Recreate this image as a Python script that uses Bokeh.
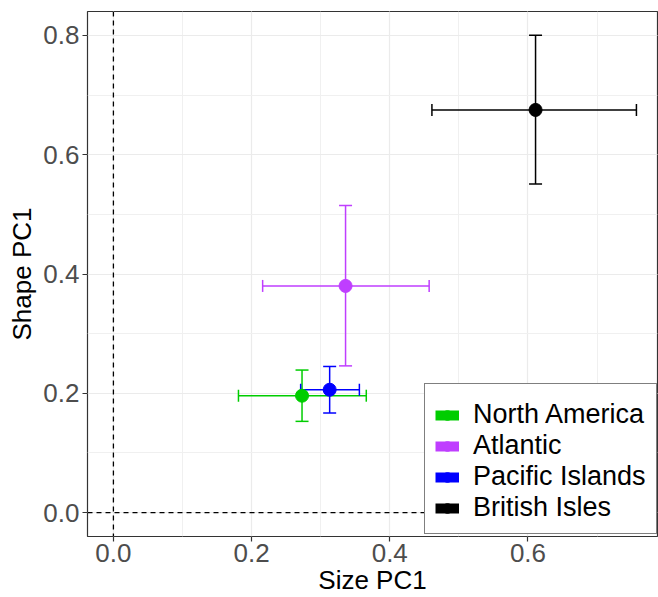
from bokeh.plotting import figure
from bokeh.models import (Whisker, TeeHead, ColumnDataSource, Span, Legend, LegendItem,
                          SingleIntervalTicker, PrintfTickFormatter, Range1d)
from bokeh.embed import file_html
from bokeh.resources import INLINE

regions = ["North America", "Atlantic", "Pacific Islands", "British Isles"]
colors = ["#00CD00", "#BF3EFF", "#0000FF", "#000000"]
size_pc1 = [0.273, 0.336, 0.313, 0.611]
size_lo = [0.181, 0.216, 0.271, 0.461]
size_hi = [0.366, 0.457, 0.356, 0.757]
shape_pc1 = [0.196, 0.380, 0.206, 0.675]
shape_lo = [0.153, 0.246, 0.167, 0.551]
shape_hi = [0.239, 0.515, 0.245, 0.800]

FONT = "Liberation Sans"
FS = "26px"

p = figure(width=658, height=597, output_backend="svg", toolbar_location=None,
           x_range=Range1d(-0.0375, 0.7875), y_range=Range1d(-0.04, 0.84),
           min_border_left=87, min_border_right=1, min_border_top=11, min_border_bottom=58,
           background_fill_color="white", border_fill_color="white")

p.outline_line_color = "#333333"
p.outline_line_width = 1.2

for ax in (p.xaxis[0], p.yaxis[0]):
    ax.ticker = SingleIntervalTicker(interval=0.2, num_minor_ticks=2)
    ax.formatter = PrintfTickFormatter(format="%.1f")
    ax.axis_line_color = None
    ax.major_tick_line_color = "#333333"
    ax.major_tick_line_width = 1.2
    ax.major_tick_out = 5
    ax.major_tick_in = 0
    ax.minor_tick_line_color = None
    ax.major_label_text_font = FONT
    ax.major_label_text_font_size = FS
    ax.major_label_text_color = "#4D4D4D"
    ax.axis_label_text_font = FONT
    ax.axis_label_text_font_size = FS
    ax.axis_label_text_font_style = "normal"
    ax.axis_label_text_color = "black"

p.xaxis.axis_label = "Size PC1"
p.yaxis.axis_label = "Shape PC1"
p.xaxis.major_label_standoff = 2
p.xaxis.axis_label_standoff = 0
p.yaxis.major_label_standoff = 3
p.yaxis.axis_label_standoff = 3

for g in (p.xgrid[0], p.ygrid[0]):
    g.ticker = SingleIntervalTicker(interval=0.2, num_minor_ticks=2)
    g.grid_line_color = "#EBEBEB"
    g.grid_line_width = 1.2
    g.minor_grid_line_color = "#F0F0F0"
    g.minor_grid_line_width = 1

p.add_layout(Span(location=0, dimension="height", line_color="black",
                  line_dash="5 4", line_width=1.3, level="underlay"))
p.add_layout(Span(location=0, dimension="width", line_color="black",
                  line_dash="5 4", line_width=1.3, level="underlay"))

nan = float("nan")
items = []
for i, r in enumerate(regions):
    c = colors[i]
    src = ColumnDataSource(dict(x=[size_pc1[i]], y=[shape_pc1[i]],
                                xlo=[size_lo[i]], xhi=[size_hi[i]],
                                ylo=[shape_lo[i]], yhi=[shape_hi[i]]))
    wv = Whisker(source=src, base="x", lower="ylo", upper="yhi", dimension="height",
                 line_color=c, line_width=1.5, level="underlay",
                 upper_head=TeeHead(size=13, line_color=c, line_width=1.5),
                 lower_head=TeeHead(size=13, line_color=c, line_width=1.5))
    wh = Whisker(source=src, base="y", lower="xlo", upper="xhi", dimension="width",
                 line_color=c, line_width=1.5, level="underlay",
                 upper_head=TeeHead(size=12, line_color=c, line_width=1.5),
                 lower_head=TeeHead(size=12, line_color=c, line_width=1.5))
    p.add_layout(wv)
    p.add_layout(wh)
    p.scatter("x", "y", source=src, size=13, color=c)
    # legend key renderers (not visible in the plot area)
    lr = p.line(x=[nan], y=[nan], line_color=c, line_width=10)
    sr = p.scatter(x=[nan], y=[nan], size=14, color=c)
    items.append(LegendItem(label=r, renderers=[lr, sr]))

legend = Legend(items=items, location=(337, 2), border_line_color="black",
                border_line_width=1.5, label_text_font=FONT, label_text_font_size="27px",
                label_text_color="black", glyph_width=24, glyph_height=28,
                label_standoff=14, padding=10, spacing=0, margin=0,
                title=" ", title_text_font_size="4px", title_standoff=0,
                background_fill_alpha=1.0, background_fill_color="white")
p.add_layout(legend)

open("out.html", "w").write(file_html(p, INLINE))
